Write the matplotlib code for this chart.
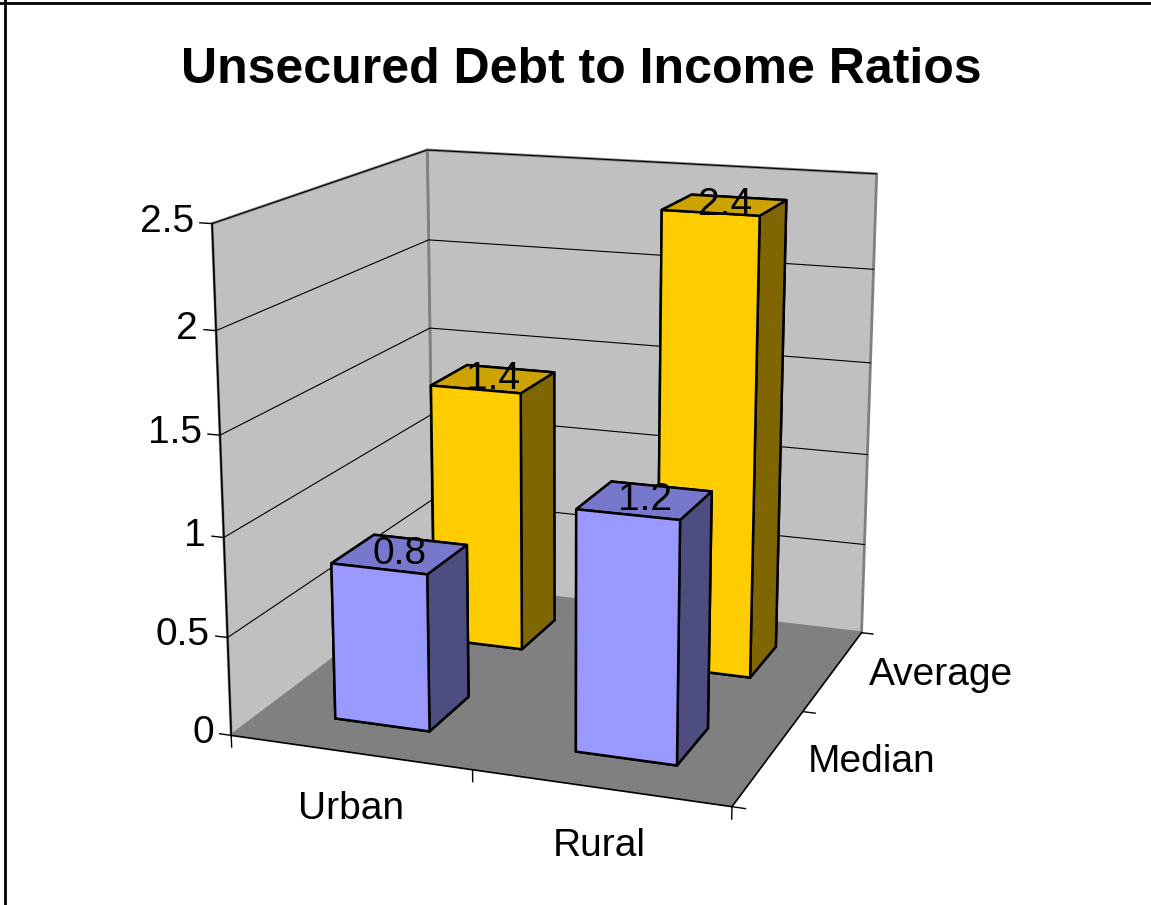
import numpy as np
import matplotlib.pyplot as plt
from mpl_toolkits.mplot3d.art3d import Poly3DCollection

categories = ["Urban", "Rural"]
series = ["Median", "Average"]
median_vals = [0.8, 1.2]
average_vals = [1.4, 2.4]
z_ticks = [0, 0.5, 1, 1.5, 2, 2.5]
z_labels = ["0", "0.5", "1", "1.5", "2", "2.5"]

# colours: front, top, side
bar_colors = {"Median": ("#9999FF", "#7777CC", "#4D4D80"),
              "Average": ("#FFCC00", "#CCA300", "#806600")}

plt.rcParams['font.family'] = ['Liberation Sans', 'DejaVu Sans']

fig = plt.figure(figsize=(11.51, 9.05), dpi=100)
ax = fig.add_axes([0.1138, 0.0288, 0.7333, 0.9326], projection='3d', computed_zorder=False)
ax.set_proj_type('persp', focal_length=0.54)
ax.view_init(elev=15, azim=-70)
ax.set_box_aspect((512, 510, 509), zoom=1.0)
ax.set_axis_off()

nx, ny, zmax = len(categories), len(series), z_ticks[-1]
ax.set_xlim(0, nx)
ax.set_ylim(0, ny)
ax.set_zlim(0, zmax)

# walls and floor
left_wall = [(0, 0, 0), (0, ny, 0), (0, ny, zmax), (0, 0, zmax)]
back_wall = [(0, ny, 0), (nx, ny, 0), (nx, ny, zmax), (0, ny, zmax)]
floor = [(0, 0, 0), (nx, 0, 0), (nx, ny, 0), (0, ny, 0)]
ax.add_collection3d(Poly3DCollection([left_wall, back_wall], facecolors="#C0C0C0",
                                     edgecolors="#808080", linewidths=2, zorder=1))
ax.add_collection3d(Poly3DCollection([floor], facecolors="#808080",
                                     edgecolors="none", zorder=2))

# gridlines
for z in z_ticks[1:]:
    ax.plot([0, 0, nx], [0, ny, ny], [z, z, z], color="black", lw=0.8, zorder=3)

# axis lines
ax.plot([0, 0], [0, 0], [0, zmax], color="black", lw=1.2, zorder=3)
ax.plot([0, nx, nx], [0, 0, ny], [0, 0, 0], color="black", lw=1.2, zorder=3)

# z ticks
for z, lab in zip(z_ticks, z_labels):
    ax.plot([0, -0.05], [0, 0], [z, z], color="black", lw=1, zorder=3)
    ax.text(-0.075, 0, z, lab, ha="right", va="center", fontsize=28, zorder=10)

# x ticks and labels
for i in range(nx + 1):
    ax.plot([i, i], [0, 0], [0, -0.06], color="black", lw=1, zorder=3)
for i, cat in enumerate(categories):
    ax.text(i + 0.5, 0, -0.29, cat, ha="center", va="center", fontsize=28, zorder=10)

# y ticks and labels
for j in range(ny + 1):
    ax.plot([nx, nx + 0.05], [j, j], [0, 0], color="black", lw=1, zorder=3)
for j, s in enumerate(series):
    ax.text(nx + 0.15, j + 0.5, 0, s, ha="left", va="center", fontsize=28, zorder=10)

# bars, back series first
w = 0.4
for j in [1, 0]:
    name = series[j]
    vals = median_vals if name == "Median" else average_vals
    front, top, side = bar_colors[name]
    xs = np.arange(nx) + 0.5 - w / 2
    ys = np.full(nx, j + 0.5 - w / 2)
    cols = [front, top, front, front, side, side] * nx
    ax.bar3d(xs, ys, np.zeros(nx), w, w, vals, color=cols, shade=False,
             edgecolor="black", linewidth=1.8, zorder=5 + (1 - j))
    for i, v in enumerate(vals):
        ax.text(i + 0.5, j + 0.5, v, f"{v:g}", ha="center", va="center",
                fontsize=28, zorder=12)

fig.text(0.505, 0.923, "Unsecured Debt to Income Ratios", ha="center", va="center",
         fontsize=36, fontweight="bold")

# frame lines at top and left
fig.add_artist(plt.Line2D([0, 1], [0.997, 0.997], color="black", lw=2))
fig.add_artist(plt.Line2D([0.0045, 0.0045], [0, 1], color="black", lw=2))

fig.savefig("out.png", dpi=100)
